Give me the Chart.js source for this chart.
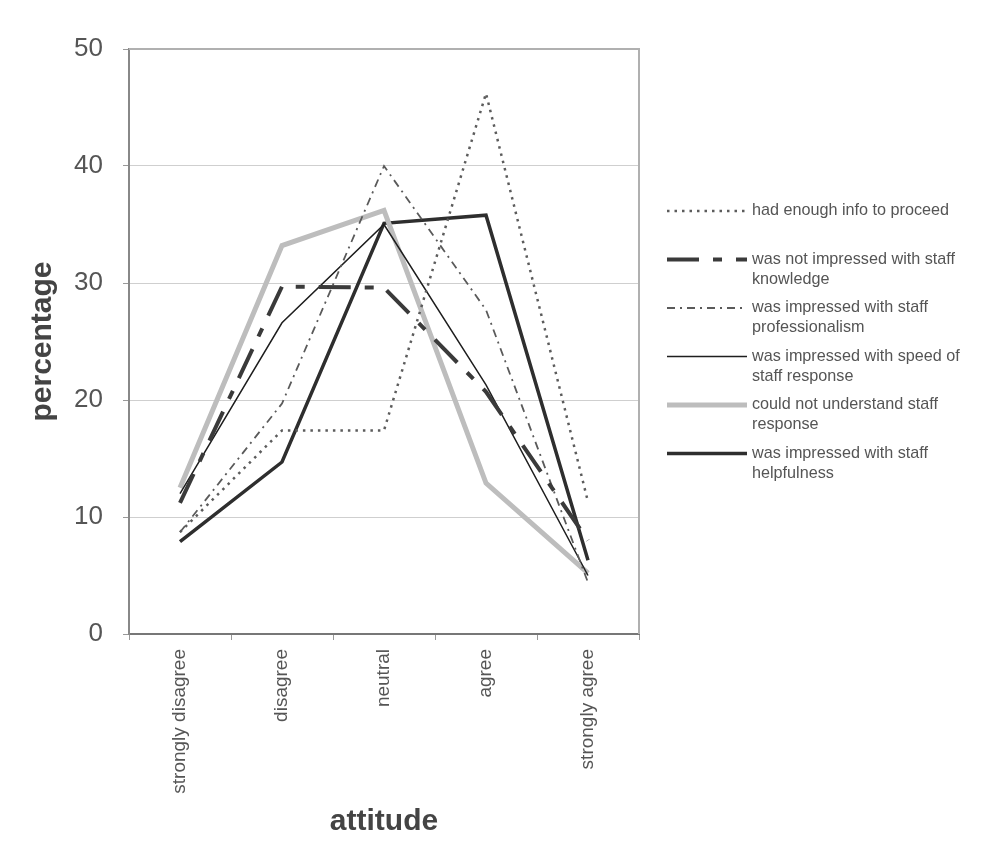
<!DOCTYPE html>
<html>
<head>
<meta charset="utf-8">
<script src="https://cdn.jsdelivr.net/npm/chart.js@4"></script>
<style>
  html, body { margin: 0; padding: 0; background: #fff; }
  #wrap { width: 994px; height: 858px; }
</style>
</head>
<body>
<div id="wrap"><canvas id="attitudes"></canvas></div>
<script>
const labels = ['strongly disagree', 'disagree', 'neutral', 'agree', 'strongly agree'];

const seriesNames = [
    'had enough info to proceed',
    'was not impressed with staff knowledge',
    'was impressed with staff professionalism',
    'was impressed with speed of staff response',
    'could not understand staff response',
    'was impressed with staff helpfulness'
];

const enoughInfo = [8.7, 17.4, 17.4, 46.2, 11.3];
const notImpressedKnowledge = [11.2, 29.7, 29.6, 20.7, 8.0];
const professionalism = [8.7, 19.7, 40.0, 27.7, 4.4];
const speedResponse = [12.0, 26.6, 35.0, 21.3, 5.0];
const couldNotUnderstand = [12.5, 33.2, 36.2, 12.9, 5.2];
const helpfulness = [7.9, 14.7, 35.1, 35.8, 6.3];

const yTicks = [0, 10, 20, 30, 40, 50];

const FONT = 'Liberation Sans, Arial, sans-serif';

// right-hand legend, two-line labels like the original
const sideLegend = {
    id: 'sideLegend',
    afterDraw(chart) {
        const ctx = chart.ctx;
        const sets = chart.data.datasets;
        const x0 = 667, x1 = 747, tx = 752;
        const step = 48.5, lineH = 20;
        let y = 211;
        ctx.save();
        ctx.font = '16.2px ' + FONT;
        ctx.textBaseline = 'middle';
        ctx.fillStyle = '#555';
        sets.forEach(ds => {
            ctx.beginPath();
            ctx.setLineDash(ds.borderDash || []);
            ctx.lineWidth = ds.borderWidth;
            ctx.strokeStyle = ds.borderColor;
            ctx.moveTo(x0, y);
            ctx.lineTo(x1, y);
            ctx.stroke();
            ctx.setLineDash([]);
            // wrap label
            const words = ds.label.split(' ');
            const lines = [];
            let cur = '';
            words.forEach(w => {
                const t = cur ? cur + ' ' + w : w;
                if (ctx.measureText(t).width > 220 && cur) { lines.push(cur); cur = w; }
                else cur = t;
            });
            lines.push(cur);
            lines.forEach((l, i) => ctx.fillText(l, tx, y + i * lineH));
            y += step;
        });
        ctx.restore();
    }
};

// grey frame on top/right of plot area
const plotFrame = {
    id: 'plotFrame',
    beforeDatasetsDraw(chart) {
        const {ctx, chartArea: a} = chart;
        ctx.save();
        ctx.strokeStyle = '#b0b0b0';
        ctx.lineWidth = 2;
        ctx.beginPath();
        ctx.moveTo(a.left, a.top);
        ctx.lineTo(a.right, a.top);
        ctx.lineTo(a.right, a.bottom);
        ctx.stroke();
        ctx.restore();
    }
};

const data = {
    labels,
    datasets: [
        {
            label: seriesNames[0],
            data: enoughInfo,
            borderColor: '#5c5c5c',
            borderWidth: 2.5,
            borderDash: [2.5, 5]
        },
        {
            label: seriesNames[1],
            data: notImpressedKnowledge,
            borderColor: '#3a3a3a',
            borderWidth: 4,
            borderDash: [32, 14, 9, 14]
        },
        {
            label: seriesNames[2],
            data: professionalism,
            borderColor: '#5a5a5a',
            borderWidth: 1.8,
            borderDash: [8, 5, 2, 5]
        },
        {
            label: seriesNames[3],
            data: speedResponse,
            borderColor: '#1e1e1e',
            borderWidth: 1.5
        },
        {
            label: seriesNames[4],
            data: couldNotUnderstand,
            borderColor: '#bdbdbd',
            borderWidth: 5
        },
        {
            label: seriesNames[5],
            data: helpfulness,
            borderColor: '#2e2e2e',
            borderWidth: 3.5
        }
    ]
};

new Chart(document.getElementById('attitudes'), {
    type: 'line',
    data: data,
    plugins: [plotFrame, sideLegend],
    options: {
        responsive: true,
        maintainAspectRatio: false,
        animation: false,
        layout: { padding: { top: 49, right: 355, bottom: 0, left: 0 } },
        elements: {
            point: { radius: 0 },
            line: { tension: 0, fill: false, borderCapStyle: 'butt', borderJoinStyle: 'miter' }
        },
        plugins: {
            legend: { display: false },
            tooltip: { enabled: false }
        },
        scales: {
            x: {
                offset: true,
                afterFit: scale => { scale.height = 224; },
                grid: {
                    offset: true,
                    drawOnChartArea: false,
                    tickLength: 6,
                    tickColor: '#999'
                },
                border: { color: '#777', width: 2 },
                ticks: {
                    minRotation: 90,
                    maxRotation: 90,
                    padding: 9,
                    color: '#555',
                    font: { family: FONT, size: 19 }
                },
                title: {
                    display: true,
                    text: 'attitude',
                    color: '#444',
                    padding: { top: 0, bottom: 18 },
                    font: { family: FONT, size: 30, weight: 'bold' }
                }
            },
            y: {
                min: 0,
                max: 50,
                afterFit: scale => { scale.width = 129; },
                afterBuildTicks: scale => { scale.ticks = yTicks.map(v => ({ value: v })); },
                grid: {
                    color: '#cfcfcf',
                    lineWidth: 1,
                    tickLength: 6,
                    tickColor: '#999'
                },
                border: { color: '#888', width: 2 },
                ticks: {
                    padding: 20,
                    color: '#555',
                    font: { family: FONT, size: 26 }
                },
                title: {
                    display: true,
                    text: 'percentage',
                    color: '#444',
                    padding: { top: 25, bottom: 0 },
                    font: { family: FONT, size: 30, weight: 'bold' }
                }
            }
        }
    }
});
</script>
</body>
</html>
